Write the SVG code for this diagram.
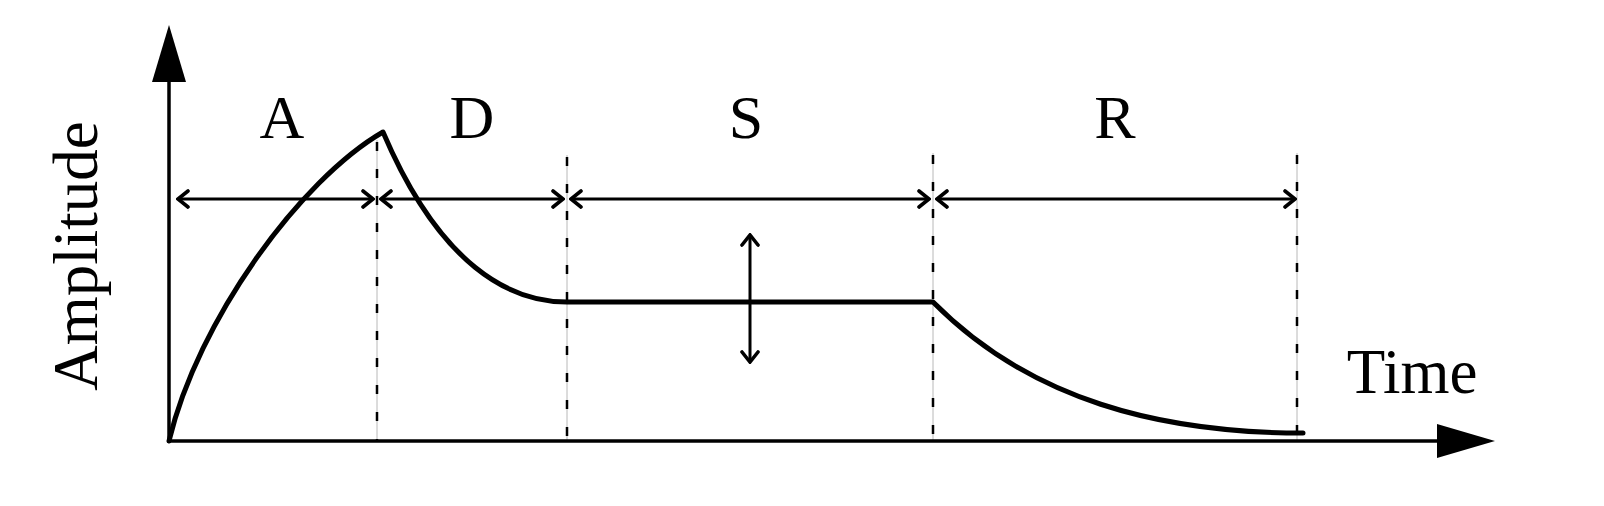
<svg xmlns="http://www.w3.org/2000/svg" width="1604" height="506" viewBox="0 0 1604 506">
<style>
.lbl{font-family:"Liberation Serif","Times New Roman",serif;font-size:62px;fill:#000;text-anchor:middle}
.axis{stroke:#000;stroke-width:3.5;fill:none}
.curve{stroke:#000;stroke-width:5;fill:none;stroke-linejoin:round;stroke-linecap:round}
.dimline{stroke:#000;stroke-width:3;fill:none}
.guide{stroke:#b8b8b8;stroke-width:1;fill:none}
.dash{stroke:#000;stroke-width:2.5;fill:none;stroke-dasharray:9 18}
</style>
<defs>
<marker id="chev" viewBox="0 0 14 20" refX="12" refY="10" markerWidth="14" markerHeight="20" markerUnits="userSpaceOnUse" orient="auto-start-reverse">
<path d="M2,2 L12,10 L2,18" fill="none" stroke="#000" stroke-width="3.6" stroke-linecap="round" stroke-linejoin="miter"/>
</marker>
</defs>
<rect width="1604" height="506" fill="#fff"/>
<g id="guides">
<line class="guide" x1="377" y1="140" x2="377" y2="441"/>
<line class="dash" x1="377" y1="142" x2="377" y2="441"/>
<line class="guide" x1="567" y1="155" x2="567" y2="441"/>
<line class="dash" x1="567" y1="157" x2="567" y2="441"/>
<line class="guide" x1="933" y1="153" x2="933" y2="441"/>
<line class="dash" x1="933" y1="155" x2="933" y2="441"/>
<line class="guide" x1="1297" y1="153" x2="1297" y2="441"/>
<line class="dash" x1="1297" y1="155" x2="1297" y2="441"/>
</g>
<g id="axes">
<line class="axis" x1="169" y1="441" x2="169" y2="80"/>
<polygon points="169,25 152,82 186,82" fill="#000"/>
<line class="axis" x1="167" y1="441" x2="1440" y2="441"/>
<polygon points="1495,441 1437,424 1437,458" fill="#000"/>
</g>
<g id="envelope">
<path class="curve" d="M169,441 C198,320 300,180 383,132 C440,266 510,302 567,302 L933,302 C1030,400 1160,433 1303,433"/>
</g>
<g id="connectors">
<line class="dimline" x1="178" y1="199" x2="373" y2="199" marker-start="url(#chev)" marker-end="url(#chev)"/>
<line class="dimline" x1="381" y1="199" x2="563" y2="199" marker-start="url(#chev)" marker-end="url(#chev)"/>
<line class="dimline" x1="571" y1="199" x2="929" y2="199" marker-start="url(#chev)" marker-end="url(#chev)"/>
<line class="dimline" x1="937" y1="199" x2="1295" y2="199" marker-start="url(#chev)" marker-end="url(#chev)"/>
<line class="dimline" x1="750" y1="235" x2="750" y2="362" marker-start="url(#chev)" marker-end="url(#chev)"/>
</g>
<g id="labels">
<text class="lbl" x="282" y="138">A</text>
<text class="lbl" x="472" y="138">D</text>
<text class="lbl" x="746" y="138">S</text>
<text class="lbl" x="1115" y="138">R</text>
<text class="lbl" x="1412" y="393" style="font-size:63px">Time</text>
<text class="lbl" transform="translate(97,256) rotate(-90)" x="0" y="0" style="font-size:63px">Amplitude</text>
</g>
</svg>
